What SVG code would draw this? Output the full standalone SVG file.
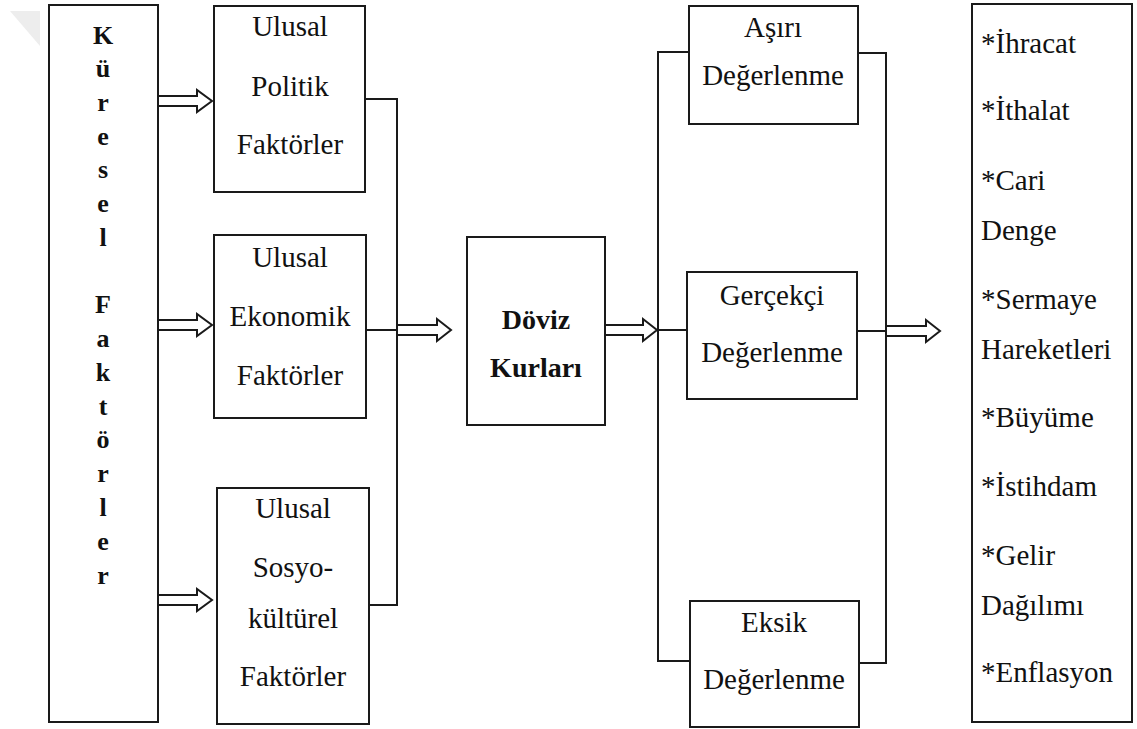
<svg xmlns="http://www.w3.org/2000/svg" width="1137" height="729" viewBox="0 0 1137 729">
<style>
.box{fill:#fff;stroke:#1a1a1a;stroke-width:2}
.ln{fill:none;stroke:#1a1a1a;stroke-width:2}
.arr{fill:#fff;stroke:#1a1a1a;stroke-width:2;stroke-linejoin:miter}
.t{font-family:'Liberation Serif','Times New Roman',serif;font-size:29px;fill:#111;text-anchor:middle}
.b{font-weight:bold;font-size:26px}
.d{font-weight:bold;font-size:28px}
.l{text-anchor:start}
</style>
<rect width="1137" height="729" fill="#fff"/>
<polygon points="10,11 40,11 40,46" fill="#ededed"/>
<g id="kuresel">
<rect class="box" x="49" y="5" width="109" height="717"/>
<g class="t b">
<text x="103" y="44">K</text><text x="103" y="77">ü</text><text x="103" y="111">r</text><text x="103" y="145">e</text><text x="103" y="178">s</text><text x="103" y="212">e</text><text x="103" y="246">l</text>
<text x="103" y="313">F</text><text x="103" y="347">a</text><text x="103" y="381">k</text><text x="103" y="415">t</text><text x="103" y="448">ö</text><text x="103" y="482">r</text><text x="103" y="516">l</text><text x="103" y="550">e</text><text x="103" y="584">r</text>
</g>
</g>
<g id="politik">
<rect class="box" x="214" y="6" width="151" height="186"/>
<text class="t" x="290" y="36">Ulusal</text><text class="t" x="290" y="96">Politik</text><text class="t" x="290" y="154">Faktörler</text>
</g>
<g id="ekonomik">
<rect class="box" x="214" y="235" width="152" height="183"/>
<text class="t" x="290" y="267">Ulusal</text><text class="t" x="290" y="326">Ekonomik</text><text class="t" x="290" y="385">Faktörler</text>
</g>
<g id="sosyo">
<rect class="box" x="217" y="488" width="152" height="236"/>
<text class="t" x="293" y="518">Ulusal</text><text class="t" x="293" y="577">Sosyo-</text><text class="t" x="293" y="628">kültürel</text><text class="t" x="293" y="686">Faktörler</text>
</g>
<g id="doviz">
<rect class="box" x="467" y="237" width="138" height="188"/>
<text class="t d" x="536" y="329">Döviz</text><text class="t d" x="536" y="377">Kurları</text>
</g>
<g id="asiri">
<rect class="box" x="689" y="6" width="169" height="118"/>
<text class="t" x="773" y="37">Aşırı</text><text class="t" x="773" y="85">Değerlenme</text>
</g>
<g id="gercekci">
<rect class="box" x="687" y="272" width="170" height="127"/>
<text class="t" x="772" y="305">Gerçekçi</text><text class="t" x="772" y="362">Değerlenme</text>
</g>
<g id="eksik">
<rect class="box" x="690" y="601" width="169" height="126"/>
<text class="t" x="774" y="632">Eksik</text><text class="t" x="774" y="689">Değerlenme</text>
</g>
<g id="etkiler">
<rect class="box" x="972" y="4" width="160" height="718"/>
<g class="t l">
<text x="981" y="53">*İhracat</text>
<text x="981" y="120">*İthalat</text>
<text x="981" y="190">*Cari</text>
<text x="981" y="240">Denge</text>
<text x="981" y="309">*Sermaye</text>
<text x="981" y="359">Hareketleri</text>
<text x="981" y="427">*Büyüme</text>
<text x="981" y="496">*İstihdam</text>
<text x="981" y="565">*Gelir</text>
<text x="981" y="615">Dağılımı</text>
<text x="981" y="682">*Enflasyon</text>
</g>
</g>
<g id="connectors">
<path class="ln" d="M365,99 H397 V605 H369"/>
<path class="ln" d="M366,330 H397"/>
<path class="ln" d="M689,52 H658 V661 H690"/>
<path class="ln" d="M658,330 H687"/>
<path class="ln" d="M858,53 H886 V663 H859"/>
<path class="ln" d="M857,331 H886"/>
<polygon class="arr" points="158,96 197,96 197,90 212,101 197,112 197,106 158,106"/>
<polygon class="arr" points="158,320 197,320 197,314 212,325 197,336 197,330 158,330"/>
<polygon class="arr" points="158,595 197,595 197,589 212,600 197,611 197,605 158,605"/>
<polygon class="arr" points="397,325 437,325 437,319 451,330 437,341 437,335 397,335"/>
<polygon class="arr" points="605,325 643,325 643,319 657,330 643,341 643,335 605,335"/>
<polygon class="arr" points="886,326 926,326 926,320 940,331 926,342 926,336 886,336"/>
</g>
</svg>
